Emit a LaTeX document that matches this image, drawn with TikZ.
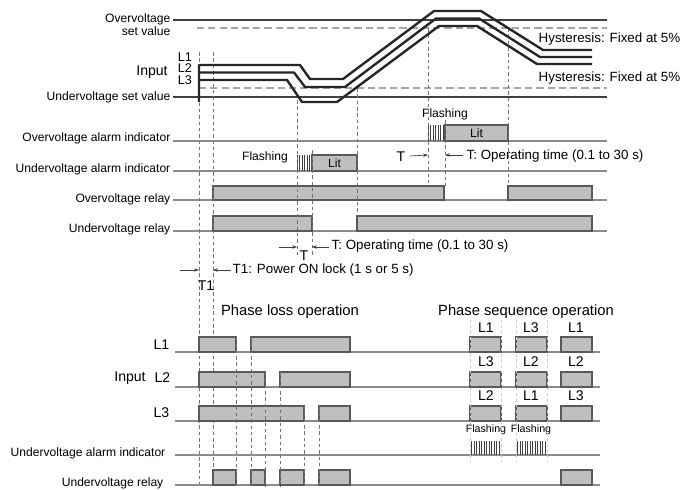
\documentclass[tikz,border=0pt]{standalone}
\usepackage{fontspec}
\setmainfont{Liberation Sans}
\usetikzlibrary{arrows.meta, positioning, calc}

\begin{document}
\begin{tikzpicture}[
    x=0.025cm, y=-0.025cm,
    every node/.style={font=\fontsize{8.6}{10}\selectfont, inner sep=1pt},
    rowlabel/.style={anchor=east},
    biglabel/.style={font=\fontsize{10}{12}\selectfont},
    title/.style={font=\fontsize{10.5}{12}\selectfont},
    note/.style={anchor=west, font=\fontsize{9.5}{11}\selectfont},
    smalltext/.style={font=\fontsize{7.6}{9}\selectfont},
    phaselabel/.style={font=\fontsize{9}{9}\selectfont, inner sep=0pt,
                       text height=6pt, text depth=0pt},
    axisline/.style={draw=black!45, line width=0.9pt},
    setline/.style={draw=black!75, line width=1.5pt},
    hyst/.style={draw=black!35, line width=0.9pt, dash pattern=on 5pt off 3pt},
    phase/.style={draw=black!85, line width=1.7pt, line join=round},
    pulse/.style={draw=black!65, fill=black!25, line width=0.8pt},
    guide/.style={draw=black!55, line width=0.4pt, dash pattern=on 2.5pt off 2pt},
    faint/.style={draw=black!20, line width=0.4pt, dash pattern=on 2pt off 2pt},
    flash/.style={draw=black!75, line width=0.4pt},
    arrow/.style={-{Stealth[length=3.5pt, width=2.5pt]}, draw=black!75, line width=0.5pt}
]
\useasboundingbox (0,0) rectangle (680,489);

% set values and hysteresis
\draw [setline] (173,20) -- (607,20);
\draw [hyst] (197,28) -- (607,28);
\draw [hyst] (199,88) -- (607,88);
\draw [setline] (173,97) -- (607,97);

\node (ovset)  [rowlabel] at (172,19) {Overvoltage};
\node (ovset2) [rowlabel] at (172,31) {set value};
\node (uvset)  [rowlabel] at (172,97) {Undervoltage set value};
\node (hysov)  [note] at (537,39) {Hysteresis: Fixed at 5\%};
\node (hysuv)  [note] at (537,78) {Hysteresis: Fixed at 5\%};
\node (input)  [biglabel] at (152,72) {Input};
\node (inl1)   [phaselabel] at (185,57) {L1};
\node (inl2)   [phaselabel] at (185,68.5) {L2};
\node (inl3)   [phaselabel] at (185,80) {L3};

% upper rows
\draw [axisline] (173,141) -- (607,141);
\draw [axisline] (173,171) -- (607,171);
\draw [axisline] (173,200) -- (607,200);
\draw [axisline] (173,231) -- (607,231);

\node (ovalarm) [rowlabel] at (172,138) {Overvoltage alarm indicator};
\node (uvalarm) [rowlabel] at (172,169) {Undervoltage alarm indicator};
\node (ovrelay) [rowlabel] at (172,199) {Overvoltage relay};
\node (uvrelay) [rowlabel] at (172,229) {Undervoltage relay};

\draw [pulse] (445,141) rectangle (508,125);
\node (ovlit) at (476.5,133) {Lit};
\foreach \x in {428,430.5,...,443} \draw [flash] (\x,141) -- (\x,125);
\node (ovflash) at (445,114) {Flashing};

\draw [pulse] (312,171) rectangle (357,155);
\node (uvlit) at (334.5,163) {Lit};
\foreach \x in {297,299.5,...,311} \draw [flash] (\x,171) -- (\x,155);
\node (uvflash) at (265,157) {Flashing};

\draw [pulse] (213,200) rectangle (444,186);
\draw [pulse] (508,200) rectangle (592,186);
\draw [pulse] (213,231) rectangle (312,216);
\draw [pulse] (357,231) rectangle (592,216);

% timing guides
\draw [guide] (199,52) -- (199,487);
\draw [guide] (213,52) -- (213,487);
\draw [guide] (297,100) -- (297,255);
\draw [guide] (312,150) -- (312,255);
\draw [guide] (357,88) -- (357,216);
\draw [guide] (428,28) -- (428,186);
\draw [guide] (445,120) -- (445,186);
\draw [guide] (508,28) -- (508,186);

% input phases
\draw [phase] (199,102) -- (199,65) -- (300,65) -- (310,79) -- (343,79)
    -- (434,11) -- (481,11) -- (543,50) -- (592,50);
\draw [phase] (199,72.5) -- (294,72.5) -- (305,87) -- (345,87)
    -- (436,18.5) -- (479,18.5) -- (540,57) -- (592,57);
\draw [phase] (199,80) -- (287,80) -- (302,102) -- (337,102)
    -- (439,26) -- (477,26) -- (537,64) -- (592,64);

% operating times
\node (tov)     [biglabel] at (401,157) {T};
\node (tovtext) [note] at (465,156) {T: Operating time (0.1 to 30 s)};
\coordinate (tova) at (428,155);
\coordinate (tovb) at (445,155);
\draw [arrow] (tov.east) ++(3,-1) -- (tova);
\draw [arrow] (tovtext.west) ++(-2,-1) -- (tovb);

\node (tuv)     [biglabel] at (304,256) {T};
\node (tuvtext) [note] at (330,246) {T: Operating time (0.1 to 30 s)};
\coordinate (tuvl) at (279,247);
\coordinate (tuva) at (297,247);
\coordinate (tuvb) at (312,247);
\draw [arrow] (tuvl) -- (tuva);
\draw [arrow] (tuvtext.west) ++(-1,1) -- (tuvb);

\node (tone)     [biglabel] at (206,286) {T1};
\node (tonetext) [note] at (231,270) {T1: Power ON lock (1 s or 5 s)};
\coordinate (tonel) at (180,270);
\coordinate (tonea) at (199,270);
\coordinate (toneb) at (213,270);
\draw [arrow] (tonel) -- (tonea);
\draw [arrow] (tonetext.west) -- (toneb);

% lower section
\node (ploss) [title] at (290,312) {Phase loss operation};
\node (pseq)  [title] at (526,312) {Phase sequence operation};

\draw [axisline] (175,352) -- (600,352);
\draw [axisline] (175,387) -- (600,387);
\draw [axisline] (175,421) -- (600,421);
\draw [axisline] (175,455) -- (600,455);
\draw [axisline] (175,485) -- (600,485);

\node (lowl1)    [biglabel, anchor=east] at (171,345) {L1};
\node (lowinput) [biglabel] at (130,378) {Input};
\node (lowl2)    [biglabel, anchor=east] at (172,378) {L2};
\node (lowl3)    [biglabel, anchor=east] at (171,413) {L3};
\node (lowalarm) [rowlabel] at (167,453) {Undervoltage alarm indicator};
\node (lowrelay) [rowlabel] at (165,483) {Undervoltage relay};

\foreach \a/\b in {199/236, 251/350, 470/501, 516/547, 561/592}
    \draw [pulse] (\a,352) rectangle (\b,337);
\foreach \a/\b in {199/265, 280/350, 470/501, 516/547, 561/592}
    \draw [pulse] (\a,387) rectangle (\b,372);
\foreach \a/\b in {199/304, 319/350, 470/501, 516/547, 561/592}
    \draw [pulse] (\a,421) rectangle (\b,406);
\foreach \a/\b in {213/236, 251/265, 280/304, 319/350, 561/592}
    \draw [pulse] (\a,485) rectangle (\b,470);

\foreach \x in {471.5,474,...,500} \draw [flash] (\x,455) -- (\x,441);
\foreach \x in {517.5,520,...,546} \draw [flash] (\x,455) -- (\x,441);
\node (seqflash1) [smalltext] at (486,430) {Flashing};
\node (seqflash2) [smalltext] at (531,430) {Flashing};

\foreach \x/\a/\b/\c in {486/L1/L3/L2, 531/L3/L2/L1, 576/L1/L2/L3} {
    \node (sa\x) [biglabel] at (\x,328) {\a};
    \node (sb\x) [biglabel] at (\x,362) {\b};
    \node (sc\x) [biglabel] at (\x,396) {\c};
}

\draw [guide] (236,337) -- (236,487);
\draw [guide] (251,337) -- (251,487);
\draw [guide] (265,372) -- (265,487);
\draw [guide] (280,372) -- (280,487);
\draw [guide] (304,406) -- (304,487);
\draw [guide] (319,406) -- (319,487);
\foreach \x in {470,501,516,547} \draw [faint] (\x,320) -- (\x,462);
\end{tikzpicture}
\end{document}
